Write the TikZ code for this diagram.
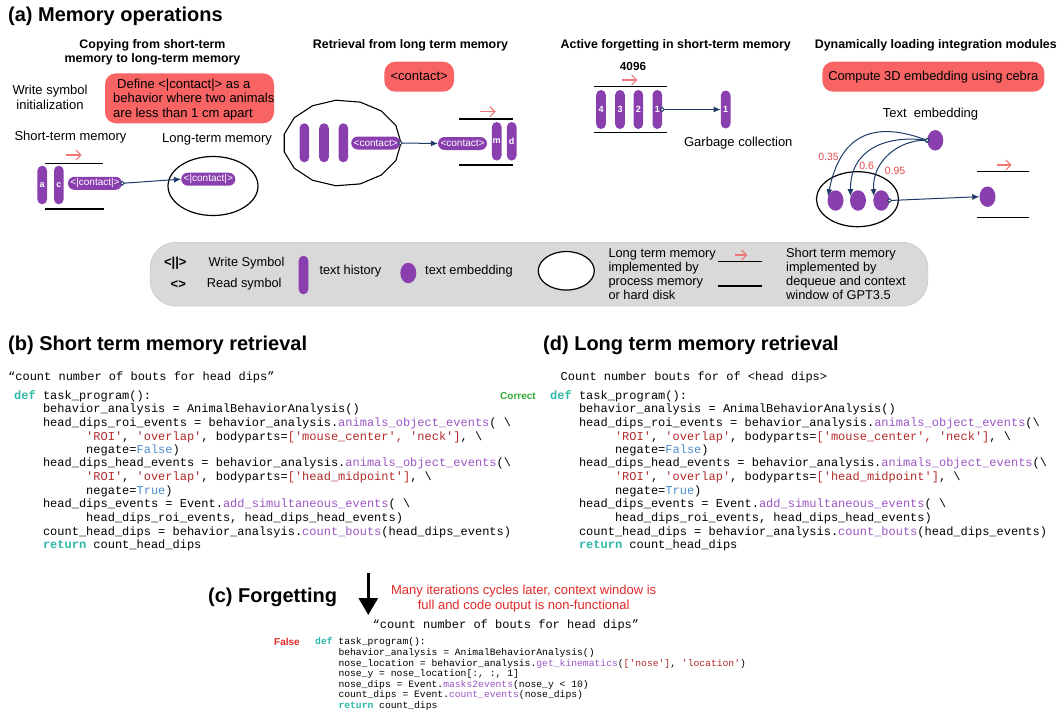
\documentclass[tikz,border=0pt]{standalone}
\usepackage{fontspec}
\setmainfont{Liberation Sans}
\setmonofont{Liberation Mono}
\usetikzlibrary{arrows.meta,shapes.geometric}
\definecolor{purp}{HTML}{8A3FAF}
\definecolor{redbox}{HTML}{F86464}
\definecolor{redarr}{HTML}{F07575}
\definecolor{lblc}{HTML}{E04848}
\definecolor{navy}{HTML}{1E3A66}
\definecolor{legbg}{HTML}{D9D9D9}
\definecolor{kwc}{HTML}{2CB8A6}
\definecolor{fnc}{HTML}{9B55C4}
\definecolor{stc}{HTML}{B02A2A}
\definecolor{blc}{HTML}{4C8CCB}
\definecolor{okc}{HTML}{2FA833}
\definecolor{badc}{HTML}{E02828}
\newcommand\fsz[2]{\fontsize{#1}{#2}\selectfont}
\newcommand\ckw[1]{\textcolor{kwc}{\bfseries #1}}
\newcommand\cfn[1]{\textcolor{fnc}{#1}}
\newcommand\cst[1]{\textcolor{stc}{#1}}
\newcommand\cbl[1]{\textcolor{blc}{#1}}
\newcommand\qq{\textquotesingle}
\newcommand\bsl{\textbackslash}
\begin{document}
\begin{tikzpicture}[x=1pt,y=-1pt,
  vpill/.style={fill=purp, rounded corners=4.8pt, minimum width=9.6pt, minimum height=38.5pt, inner sep=0pt, text=white, font=\fsz{9}{9}\bfseries},
  hpill/.style={fill=purp, rounded corners=6.5pt, minimum height=13pt, inner xsep=2.5pt, inner ysep=0pt, text=white, font=\fsz{10}{10}},
  rbox/.style={fill=redbox, rounded corners=11pt},
  blob/.style={ellipse, fill=purp, minimum width=16pt, minimum height=20.5pt, inner sep=0pt},
  memline/.style={line width=1.4pt},
  redarrow/.style={draw=redarr, line width=1.1pt, -{Straight Barb[length=5pt,width=10pt]}},
  conn/.style={draw=navy, line width=1pt, shorten <=-2.4pt, {Circle[fill=white,length=4.8pt,width=4.8pt,line width=0.9pt]}-{Latex[length=7pt,width=6pt]}},
  ttl/.style={font=\fsz{20}{24}\bfseries, anchor=base west, inner sep=0pt},
  sub/.style={font=\fsz{12.4}{14.3}\bfseries, align=center, inner sep=0pt},
  body/.style={font=\fsz{13}{14.3}, inner sep=0pt},
  lgd/.style={font=\fsz{12.8}{14.1}, inner sep=0pt, anchor=west},
  wlbl/.style={font=\fsz{10.5}{10.5}, text=lblc, inner sep=0pt},
  code/.style={font=\fsz{12}{12}\ttfamily, anchor=base west, inner sep=0pt},
  codes/.style={font=\fsz{9.7}{9.7}\ttfamily, anchor=base west, inner sep=0pt}
]
\useasboundingbox (0,0) rectangle (1058,712);

% ---------- (a) ----------
\node[ttl] (ta) at (8,21) {(a) Memory operations};
\node[sub] (s1) at (152.5,52.2) {Copying from short-term\\memory to long-term memory};
\node[sub] (s2) at (410.5,45) {Retrieval from long term memory};
\node[sub] (s3) at (675.8,45) {Active forgetting in short-term memory};
\node[sub] (s4) at (935.8,45) {Dynamically loading integration modules};

% panel 1
\node[body, align=center] (wsi) at (50,97.3) {Write symbol\\initialization};
\node[rbox, minimum width=169pt, minimum height=50pt] (defbox) at (189.5,98.3) {};
\node[body, align=left, anchor=west] (deft) at (113,99.5) {\hspace*{4pt}Define <|contact|> as a\\behavior where two animals\\are less than 1 cm apart};
\node[body] (stm) at (70.5,137.3) {Short-term memory};
\node[body] (ltm) at (217,139.3) {Long-term memory};
\draw[redarrow] (66,155) -- (81.7,155);
\draw[memline] (45,163.3) -- (102.7,163.3);
\draw[memline] (45,209) -- (104.3,209);
\node[vpill] (pa) at (42.2,185) {a};
\node[vpill] (pc) at (58.8,185) {c};
\node[hpill] (hc1) at (95,183.3) {<|contact|>};
\node[ellipse, draw, line width=1.2pt, minimum width=90pt, minimum height=59pt] (lt1) at (213,186) {};
\node[hpill] (hc2) at (208.3,179.2) {<|contact|>};
\draw[conn] (hc1.east) -- (hc2.west);

% panel 2
\node[rbox, minimum width=69.7pt, minimum height=30pt, font=\fsz{13}{13}] (rc) at (419.2,76.7) {<contact>};
\draw[line width=1.1pt] plot[samples=15, domain=0:336] ({342+59*cos(\x)},{143+43*sin(\x)}) -- cycle;
\node[vpill, minimum height=39pt] (m1) at (304.3,142.8) {};
\node[vpill, minimum height=39pt] (m2) at (324,142.8) {};
\node[vpill, minimum height=39pt] (m3) at (343.3,142.8) {};
\node[hpill] (hc3) at (375.7,143) {<contact>};
\node[hpill] (hc4) at (462.5,143.5) {<contact>};
\draw[conn] (hc3.east) -- (hc4.west);
\node[vpill] (pm) at (496.7,141.3) {m};
\node[vpill] (pd) at (511.7,141.3) {d};
\draw[memline] (459.3,119) -- (512.7,119);
\draw[memline] (459.3,165) -- (512.7,165);
\draw[redarrow] (480,111.7) -- (495.7,111.7);

% panel 3
\node[font=\fsz{11.7}{12}\bfseries, inner sep=0pt] (n4096) at (633,66) {4096};
\draw[redarrow] (621.7,80) -- (637.3,80);
\draw[memline] (594,86.7) -- (667.3,86.7);
\draw[memline] (594,132.3) -- (667.3,132.3);
\node[vpill, minimum height=39pt] (q4) at (601,109.5) {4};
\node[vpill, minimum height=39pt] (q3) at (620,109.5) {3};
\node[vpill, minimum height=39pt] (q2) at (638.3,109.5) {2};
\node[vpill, minimum height=39pt] (q1) at (657.3,109.5) {1};
\node[vpill, minimum height=38pt] (g1) at (725.7,109.5) {1};
\draw[conn] (q1.east) -- (g1.west);
\node[body] (gc) at (738.3,142.7) {Garbage collection};

% panel 4
\node[rbox, minimum width=222pt, minimum height=30pt, font=\fsz{12.9}{13}] (cebra) at (933.3,76.7) {Compute 3D embedding using cebra};
\node[body] (te) at (930.5,114) {Text\ \ embedding};
\node[blob] (src) at (935.3,140.3) {};
\node[ellipse, draw, line width=1.2pt, minimum width=82pt, minimum height=55pt] (lt3) at (857.5,199.2) {};
\node[blob] (e1) at (835.5,200.5) {};
\node[blob] (e2) at (858,200.5) {};
\node[blob] (e3) at (881.3,200.5) {};
\node[blob] (eo) at (987.5,196.7) {};
\draw[conn] (src.west) .. controls (872,120) and (840,136) .. (e1.150);
\draw[conn] (src.west) .. controls (885,135) and (850,150) .. (e2.150);
\draw[conn] (src.west) .. controls (900,140) and (872,160) .. (e3.150);
\draw[conn] (e3.east) -- (eo.west);
\node[wlbl] (w1) at (828.5,157) {0.35};
\node[wlbl] (w2) at (866.7,166) {0.6};
\node[wlbl] (w3) at (895,170.7) {0.95};
\draw[memline] (976.7,171.7) -- (1029.3,171.7);
\draw[memline] (976.7,217.7) -- (1029.3,217.7);
\draw[redarrow] (997.3,165) -- (1011.7,165);

% legend
\node[fill=legbg, draw=black!25, rounded corners=26pt, minimum width=778pt, minimum height=64pt] (leg) at (539,274.2) {};
\node[font=\fsz{13}{13}\bfseries, inner sep=0pt] (ws) at (175.3,263.3) {<||>};
\node[font=\fsz{13}{13}\bfseries, inner sep=0pt] (rs) at (178.3,284.3) {<>};
\node[lgd] (wst) at (208.3,263.3) {Write Symbol};
\node[lgd] (rst) at (206.7,284.3) {Read symbol};
\node[vpill] (lp) at (303.5,275) {};
\node[lgd] (lth) at (319.3,271) {text history};
\node[blob] (lb) at (408.3,273) {};
\node[lgd] (lte) at (425,271) {text embedding};
\node[ellipse, draw, fill=white, line width=1.2pt, minimum width=56pt, minimum height=38.5pt] (le) at (566.3,270.8) {};
\node[lgd, align=left] (ltt) at (608.3,274) {Long term memory\\implemented by\\process memory\\or hard disk};
\draw[redarrow] (735,255) -- (747.3,255);
\draw[memline] (718.3,261.7) -- (761.7,261.7);
\draw[memline] (718.3,286) -- (761.7,286);
\node[lgd, align=left] (stt) at (786,274) {Short term memory\\implemented by\\dequeue and context\\window of GPT3.5};

% ---------- (b) ----------
\node[ttl] (tb) at (8,350) {(b) Short term memory retrieval};
\node[code] (cb0) at (8,380.2) {“count number of bouts for head dips”};
\node[code] (cb1) at (14,399.2) {\ckw{def} task\_program():};
\node[font=\fsz{10}{10}\bfseries, text=okc, anchor=base west, inner sep=0pt] (ok) at (500,399.3) {Correct};
\node[code] (cb2) at (42.8,412.8) {behavior\_analysis = AnimalBehaviorAnalysis()};
\node[code] (cb3) at (42.8,426.2) {head\_dips\_roi\_events = behavior\_analysis.\cfn{animals\_object\_events}( \bsl};
\node[code] (cb4) at (86,440.2) {\cst{\qq ROI\qq}, \cst{\qq overlap\qq}, bodyparts=\cst{[\qq mouse\_center\qq, \qq neck\qq]}, \bsl};
\node[code] (cb5) at (86,453.5) {negate=\cbl{False})};
\node[code] (cb6) at (42.8,466.8) {head\_dips\_head\_events = behavior\_analysis.\cfn{animals\_object\_events}(\bsl};
\node[code] (cb7) at (86,480.8) {\cst{\qq ROI\qq}, \cst{\qq overlap\qq}, bodyparts=\cst{[\qq head\_midpoint\qq]}, \bsl};
\node[code] (cb8) at (86,494.2) {negate=\cbl{True})};
\node[code] (cb9) at (42.8,507.8) {head\_dips\_events = Event.\cfn{add\_simultaneous\_events}( \bsl};
\node[code] (cb10) at (86,521.2) {head\_dips\_roi\_events, head\_dips\_head\_events)};
\node[code] (cb11) at (42.8,535.2) {count\_head\_dips = behavior\_analsyis.\cfn{count\_bouts}(head\_dips\_events)};
\node[code] (cb12) at (42.8,548.5) {\ckw{return} count\_head\_dips};

% ---------- (d) ----------
\node[ttl] (td) at (543,350) {(d) Long term memory retrieval};
\node[code] (cd0) at (560.5,380.2) {Count number bouts for of <head dips>};
\node[code] (cd1) at (550,399.2) {\ckw{def} task\_program():};
\node[code] (cd2) at (578.8,412.8) {behavior\_analysis = AnimalBehaviorAnalysis()};
\node[code] (cd3) at (578.8,426.2) {head\_dips\_roi\_events = behavior\_analysis.\cfn{animals\_object\_events}(\bsl};
\node[code] (cd4) at (614.8,440.2) {\cst{\qq ROI\qq}, \cst{\qq overlap\qq}, bodyparts=\cst{[\qq mouse\_center\qq, \qq neck\qq]}, \bsl};
\node[code] (cd5) at (614.8,453.5) {negate=\cbl{False})};
\node[code] (cd6) at (578.8,466.8) {head\_dips\_head\_events = behavior\_analysis.\cfn{animals\_object\_events}(\bsl};
\node[code] (cd7) at (614.8,480.8) {\cst{\qq ROI\qq}, \cst{\qq overlap\qq}, bodyparts=\cst{[\qq head\_midpoint\qq]}, \bsl};
\node[code] (cd8) at (614.8,494.2) {negate=\cbl{True})};
\node[code] (cd9) at (578.8,507.8) {head\_dips\_events = Event.\cfn{add\_simultaneous\_events}( \bsl};
\node[code] (cd10) at (614.8,521.2) {head\_dips\_roi\_events, head\_dips\_head\_events)};
\node[code] (cd11) at (578.8,535.2) {count\_head\_dips = behavior\_analysis.\cfn{count\_bouts}(head\_dips\_events)};
\node[code] (cd12) at (578.8,548.5) {\ckw{return} count\_head\_dips};

% ---------- (c) ----------
\node[ttl] (tc) at (208,602) {(c) Forgetting};
\coordinate (atop) at (368.3,573);
\coordinate (abot) at (368.3,615);
\draw[line width=3pt, -{Triangle[length=17pt,width=19pt]}] (atop) -- (abot);
\node[font=\fsz{13}{14.7}, text=badc, align=center, inner sep=0pt] (ctx) at (523.7,598.3) {Many iterations cycles later, context window is\\full and code output is non-functional};
\node[code] (cc0) at (372.5,628.5) {“count number of bouts for head dips”};
\node[font=\fsz{10}{10}\bfseries, text=badc, anchor=base west, inner sep=0pt] (bad) at (274,645.2) {False};
\node[codes] (cc1) at (315,644.5) {\ckw{def} task\_program():};
\node[codes] (cc2) at (338.3,655.5) {behavior\_analysis = AnimalBehaviorAnalysis()};
\node[codes] (cc3) at (338.3,666.1) {nose\_location = behavior\_analysis.\cfn{get\_kinematics}(\cst{[\qq nose\qq]}, \cst{\qq location\qq})};
\node[codes] (cc4) at (338.3,676.8) {nose\_y = nose\_location[:, :, 1]};
\node[codes] (cc5) at (338.3,687.1) {nose\_dips = Event.\cfn{masks2events}(nose\_y < 10)};
\node[codes] (cc6) at (338.3,697.8) {count\_dips = Event.\cfn{count\_events}(nose\_dips)};
\node[codes] (cc7) at (338.3,708.5) {\ckw{return} count\_dips};
\end{tikzpicture}
\end{document}
